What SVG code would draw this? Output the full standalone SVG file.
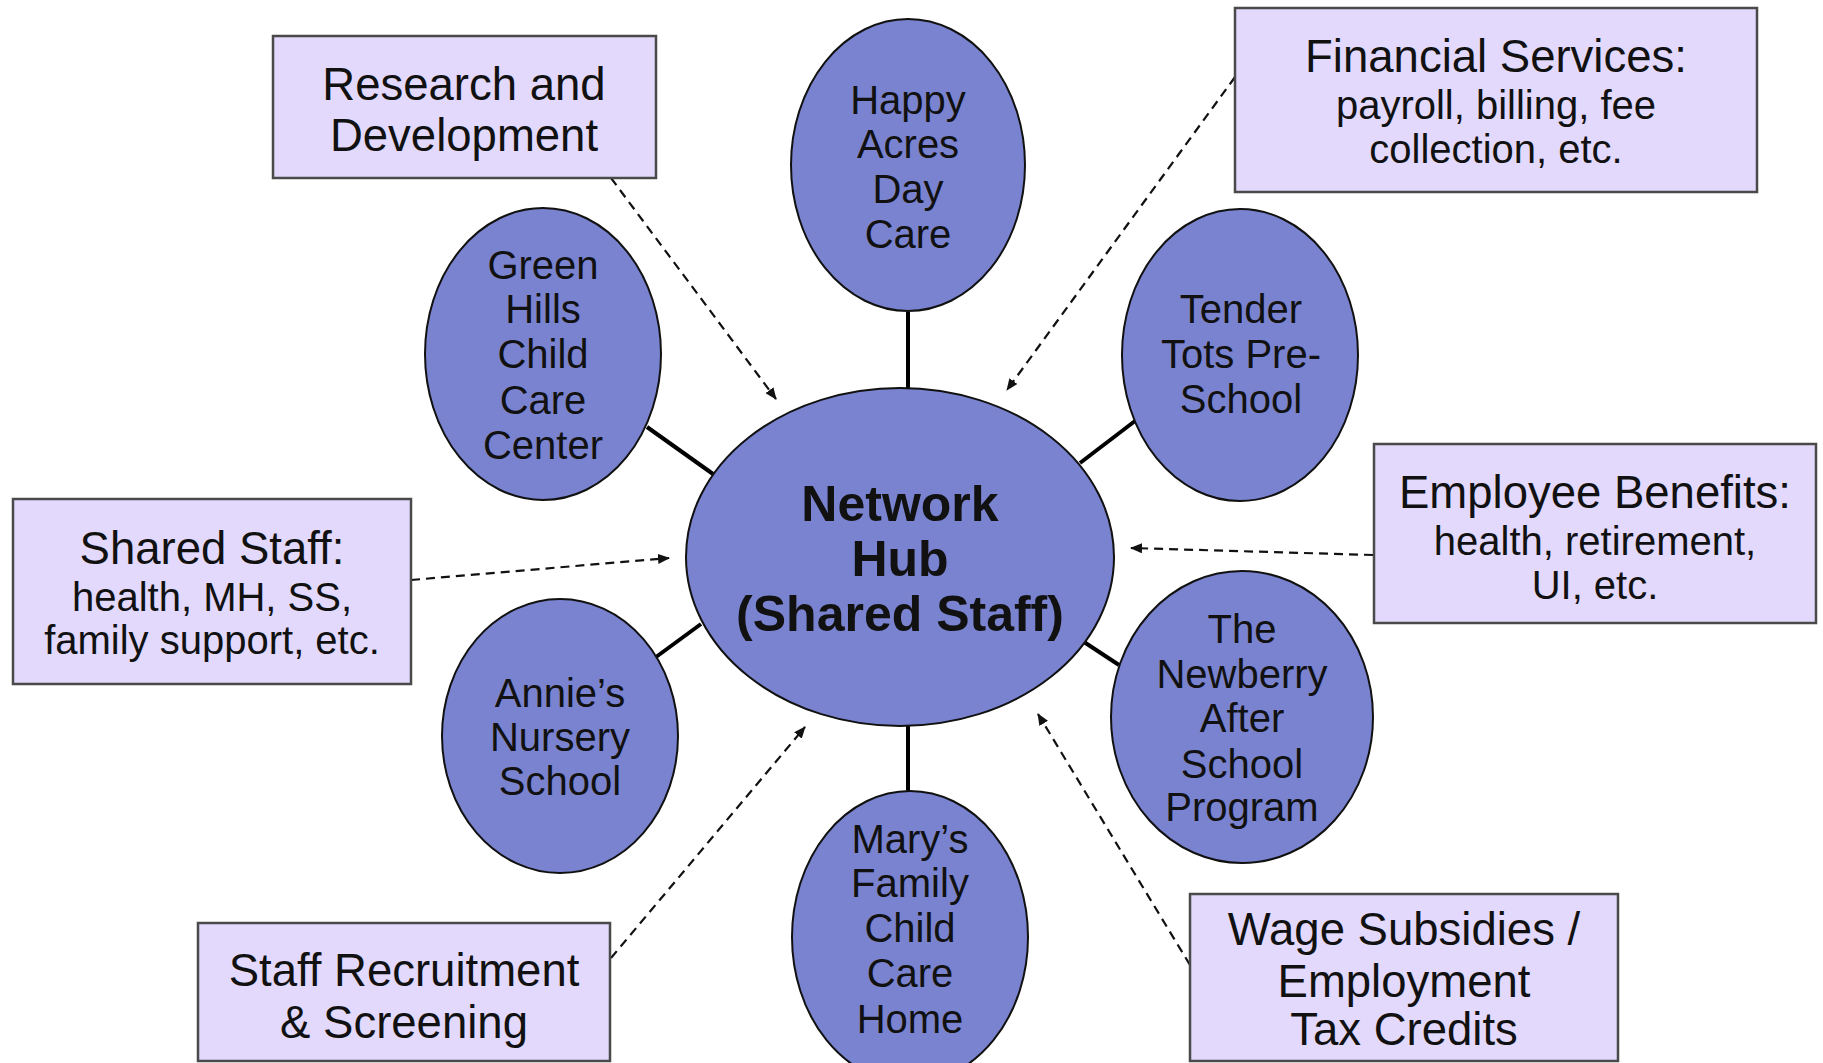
<svg xmlns="http://www.w3.org/2000/svg" width="1823" height="1063" viewBox="0 0 1823 1063">
<style>
.box{fill:#e2d9fd;stroke:#4a4a4a;stroke-width:2.5}
.ell{fill:#7a83cf;stroke:#111;stroke-width:2}
.solid{stroke:#000;stroke-width:4;fill:none}
.dash{stroke:#111;stroke-width:2.2;stroke-dasharray:9,6;fill:none;marker-end:url(#arr)}
text{font-family:"Liberation Sans",Arial,sans-serif;fill:#111;text-anchor:middle}
.t{font-size:40px}
.b{font-size:45.5px}
.s{font-size:40px}
.hub{font-size:50px;font-weight:bold}
</style>
<defs>
<marker id="arr" markerWidth="12" markerHeight="10" refX="11" refY="5" orient="auto" markerUnits="userSpaceOnUse">
<path d="M0,0 L12,5 L0,10 z" fill="#111"/>
</marker>
</defs>
<rect width="1823" height="1063" fill="#fff"/>
<g id="connectors">
<line class="solid" x1="908" y1="312" x2="908" y2="389"/>
<line class="solid" x1="647" y1="427" x2="713" y2="474"/>
<line class="solid" x1="1135" y1="421" x2="1080" y2="463"/>
<line class="solid" x1="656" y1="657" x2="701" y2="624"/>
<line class="solid" x1="1119" y1="665" x2="1084" y2="642"/>
<line class="solid" x1="908" y1="725" x2="908" y2="791"/>
<line class="dash" x1="611" y1="178" x2="776" y2="399"/>
<line class="dash" x1="1235" y1="77" x2="1007" y2="390"/>
<line class="dash" x1="1373" y1="555" x2="1131" y2="548"/>
<line class="dash" x1="411" y1="580" x2="669" y2="558"/>
<line class="dash" x1="611" y1="958" x2="805" y2="727"/>
<line class="dash" x1="1190" y1="965" x2="1038" y2="714"/>
</g>
<g id="research">
<rect class="box" x="273" y="36" width="383" height="142"/>
<text class="b" x="464" y="100">Research and</text>
<text class="b" x="464" y="151">Development</text>
</g>
<g id="financial">
<rect class="box" x="1235" y="8" width="522" height="184"/>
<text class="b" x="1496" y="72">Financial Services:</text>
<text class="s" x="1496" y="119">payroll, billing, fee</text>
<text class="s" x="1496" y="163">collection, etc.</text>
</g>
<g id="employee">
<rect class="box" x="1374" y="444" width="442" height="179"/>
<text class="b" x="1595" y="508">Employee Benefits:</text>
<text class="s" x="1595" y="555">health, retirement,</text>
<text class="s" x="1595" y="599">UI, etc.</text>
</g>
<g id="sharedstaff">
<rect class="box" x="13" y="499" width="398" height="185"/>
<text class="b" x="212" y="564">Shared Staff:</text>
<text class="s" x="212" y="611">health, MH, SS,</text>
<text class="s" x="212" y="654">family support, etc.</text>
</g>
<g id="recruitment">
<rect class="box" x="198" y="923" width="412" height="138"/>
<text class="b" x="404" y="986">Staff Recruitment</text>
<text class="b" x="404" y="1038">&amp; Screening</text>
</g>
<g id="wage">
<rect class="box" x="1190" y="894" width="428" height="167"/>
<text class="b" x="1404" y="945">Wage Subsidies /</text>
<text class="b" x="1404" y="997">Employment</text>
<text class="b" x="1404" y="1045">Tax Credits</text>
</g>
<g id="happyacres">
<ellipse class="ell" cx="908" cy="165" rx="117" ry="146"/>
<text class="t" x="908" y="114">Happy</text>
<text class="t" x="908" y="158">Acres</text>
<text class="t" x="908" y="203">Day</text>
<text class="t" x="908" y="248">Care</text>
</g>
<g id="greenhills">
<ellipse class="ell" cx="543" cy="354" rx="118" ry="146"/>
<text class="t" x="543" y="279">Green</text>
<text class="t" x="543" y="323">Hills</text>
<text class="t" x="543" y="368">Child</text>
<text class="t" x="543" y="414">Care</text>
<text class="t" x="543" y="459">Center</text>
</g>
<g id="tendertots">
<ellipse class="ell" cx="1240" cy="355" rx="118" ry="146"/>
<text class="t" x="1241" y="323">Tender</text>
<text class="t" x="1241" y="368">Tots Pre-</text>
<text class="t" x="1241" y="413">School</text>
</g>
<g id="hub">
<ellipse class="ell" cx="900" cy="557" rx="214" ry="169"/>
<text class="hub" x="900" y="521">Network</text>
<text class="hub" x="900" y="576">Hub</text>
<text class="hub" x="900" y="631">(Shared Staff)</text>
</g>
<g id="annies">
<ellipse class="ell" cx="560" cy="736" rx="118" ry="137"/>
<text class="t" x="560" y="707">Annie’s</text>
<text class="t" x="560" y="751">Nursery</text>
<text class="t" x="560" y="795">School</text>
</g>
<g id="newberry">
<ellipse class="ell" cx="1242" cy="717" rx="131" ry="146"/>
<text class="t" x="1242" y="643">The</text>
<text class="t" x="1242" y="688">Newberry</text>
<text class="t" x="1242" y="732">After</text>
<text class="t" x="1242" y="778">School</text>
<text class="t" x="1242" y="821">Program</text>
</g>
<g id="marys">
<ellipse class="ell" cx="910" cy="937" rx="118" ry="146"/>
<text class="t" x="910" y="853">Mary’s</text>
<text class="t" x="910" y="897">Family</text>
<text class="t" x="910" y="942">Child</text>
<text class="t" x="910" y="987">Care</text>
<text class="t" x="910" y="1033">Home</text>
</g>
</svg>
